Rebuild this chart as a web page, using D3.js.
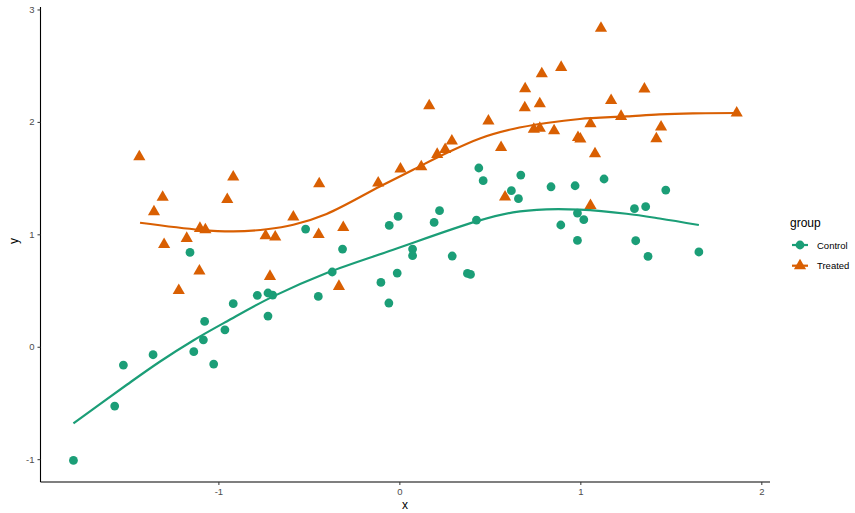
<!DOCTYPE html>
<html>
<head>
<meta charset="utf-8">
<script src="https://cdn.jsdelivr.net/npm/d3@7"></script>
<style>
  body { margin: 0; background: #fff; }
  svg { display: block; font-family: "Liberation Sans", Arial, sans-serif; }
</style>
</head>
<body>
<div id="chart"></div>
<script>
// size of the page
var width = 855, height = 513;

var groups = ["Control", "Treated"];
var colors = ["#1B9E77", "#D95F02"];

// points
var controlX = [-1.801, -1.573, -1.525, -1.361, -1.157, -1.136, -1.083, -1.076, -1.026, -0.964,
    -0.918, -0.785, -0.726, -0.700, -0.726, -0.518, -0.448, -0.371, -0.314, -0.102,
    -0.058, -0.056, -0.012, -0.007, 0.073, 0.073, 0.192, 0.222, 0.292, 0.376,
    0.393, 0.426, 0.439, 0.463, 0.619, 0.658, 0.671, 0.838, 0.892, 0.971,
    0.984, 0.984, 1.019, 1.131, 1.299, 1.306, 1.361, 1.374, 1.472, 1.655];
var controlY = [-1.011, -0.528, -0.163, -0.071, 0.839, -0.044, 0.062, 0.225, -0.154, 0.151,
    0.383, 0.457, 0.478, 0.460, 0.273, 1.047, 0.448, 0.665, 0.869, 0.572,
    0.389, 1.079, 0.655, 1.159, 0.869, 0.810, 1.106, 1.210, 0.807, 0.652,
    0.643, 1.127, 1.590, 1.477, 1.388, 1.317, 1.527, 1.423, 1.083, 1.432,
    1.189, 0.946, 1.130, 1.492, 1.228, 0.943, 1.246, 0.803, 1.394, 0.843];

var treatedX = [-1.437, -1.356, -1.308, -1.300, -1.219, -1.175, -1.105, -1.102, -1.072, -0.951,
    -0.918, -0.739, -0.715, -0.686, -0.586, -0.446, -0.443, -0.334, -0.310, -0.117,
    0.006, 0.121, 0.165, 0.209, 0.253, 0.290, 0.492, 0.562, 0.584, 0.693,
    0.695, 0.743, 0.776, 0.776, 0.787, 0.855, 0.894, 0.987, 1.000, 1.056,
    1.056, 1.081, 1.114, 1.170, 1.225, 1.354, 1.420, 1.446, 1.864];
var treatedY = [1.690, 1.200, 1.330, 0.910, 0.501, 0.964, 0.673, 1.053, 1.041, 1.310,
    1.510, 0.988, 0.626, 0.976, 1.154, 0.999, 1.450, 0.537, 1.061, 1.456,
    1.581, 1.601, 2.144, 1.711, 1.755, 1.830, 2.008, 1.773, 1.332, 2.126,
    2.295, 1.935, 1.944, 2.162, 2.429, 1.922, 2.485, 1.862, 1.848, 1.984,
    1.257, 1.717, 2.832, 2.191, 2.049, 2.293, 1.851, 1.955, 2.079];

// smooth lines
var controlFitX = [-1.801, -1.506, -1.322, -1.139, -0.954, -0.697, -0.402, -0.034, 0.426,
    0.628, 0.813, 0.997, 1.255, 1.438, 1.655];
var controlFitY = [-0.682, -0.338, -0.131, 0.056, 0.225, 0.448, 0.656, 0.863, 1.115,
    1.195, 1.222, 1.219, 1.183, 1.141, 1.083];
var treatedFitX = [-1.433, -1.102, -0.918, -0.733, -0.586, -0.402, -0.108, 0.076, 0.261,
    0.445, 0.628, 0.813, 0.997, 1.255, 1.438, 1.622, 1.864];
var treatedFitY = [1.103, 1.040, 1.026, 1.045, 1.085, 1.181, 1.425, 1.575, 1.723,
    1.853, 1.937, 1.990, 2.026, 2.049, 2.067, 2.076, 2.079];

var xTicks = [-1, 0, 1, 2];
var yTicks = [-1, 0, 1, 2, 3];

var x = d3.scaleLinear().domain([-1.983, 2.048]).range([40.5, 770]);
var y = d3.scaleLinear().domain([-1.203, 3.022]).range([482, 7]);

var svg = d3.select("#chart").append("svg")
    .attr("width", width)
    .attr("height", height);

function zip(a, b) {
    return a.map(function (v, i) { return [v, b[i]]; });
}

var line = d3.line()
    .x(function (d) { return x(d[0]); })
    .y(function (d) { return y(d[1]); })
    .curve(d3.curveCatmullRom.alpha(0.5));

var triangle = d3.symbol().type(d3.symbolTriangle).size(64);

// points
var plot = svg.append("g");

plot.selectAll("circle.ctrl")
    .data(zip(controlX, controlY))
    .enter().append("circle")
    .attr("class", "ctrl")
    .attr("cx", function (d) { return x(d[0]); })
    .attr("cy", function (d) { return y(d[1]); })
    .attr("r", 4.4)
    .style("fill", colors[0]);

plot.selectAll("path.trt")
    .data(zip(treatedX, treatedY))
    .enter().append("path")
    .attr("class", "trt")
    .attr("d", triangle)
    .attr("transform", function (d) { return "translate(" + x(d[0]) + "," + y(d[1]) + ")"; })
    .style("fill", colors[1]);

// smooth lines
plot.append("path")
    .datum(zip(controlFitX, controlFitY))
    .attr("d", line)
    .style("fill", "none")
    .style("stroke", colors[0])
    .style("stroke-width", 2.2);

plot.append("path")
    .datum(zip(treatedFitX, treatedFitY))
    .attr("d", line)
    .style("fill", "none")
    .style("stroke", colors[1])
    .style("stroke-width", 2.2);

// axes, plain hyphen for negatives like R
var fmt = function (d) { return String(d); };
var xAxis = svg.append("g")
    .attr("transform", "translate(0,482)")
    .call(d3.axisBottom(x).tickValues(xTicks).tickFormat(fmt).tickSize(3).tickPadding(3));
var yAxis = svg.append("g")
    .attr("transform", "translate(40.5,0)")
    .call(d3.axisLeft(y).tickValues(yTicks).tickFormat(fmt).tickSize(3).tickPadding(3));

[xAxis, yAxis].forEach(function (a) {
    a.select(".domain").style("stroke", "#000").style("stroke-width", 1.1);
    a.selectAll(".tick line").style("stroke", "#333").style("stroke-width", 1);
    a.selectAll(".tick text")
        .style("fill", "#4d4d4d")
        .style("font-size", "9.5px")
        .style("font-family", "Liberation Sans, Arial, sans-serif");
});
xAxis.select(".domain").attr("d", "M40.5,0H770");
yAxis.select(".domain").attr("d", "M0,482V7");

svg.append("text")
    .attr("x", 405).attr("y", 509)
    .attr("text-anchor", "middle")
    .style("font-size", "12px")
    .text("x");

svg.append("text")
    .attr("transform", "translate(18,241) rotate(-90)")
    .attr("text-anchor", "middle")
    .style("font-size", "12px")
    .text("y");

// legend
var legend = svg.append("g").attr("transform", "translate(790,0)");
legend.append("text")
    .attr("x", 0).attr("y", 227)
    .style("font-size", "12px")
    .text("group");

groups.forEach(function (g, i) {
    var ly = 245 + i * 20.7;
    legend.append("line")
        .attr("x1", 2).attr("x2", 18)
        .attr("y1", ly).attr("y2", ly)
        .style("stroke", colors[i])
        .style("stroke-width", 2.2);
    if (i == 0) {
        legend.append("circle")
            .attr("cx", 10).attr("cy", ly).attr("r", 4.4)
            .style("fill", colors[i]);
    } else {
        legend.append("path")
            .attr("d", triangle)
            .attr("transform", "translate(10," + ly + ")")
            .style("fill", colors[i]);
    }
    legend.append("text")
        .attr("x", 27).attr("y", ly + 3.5)
        .style("font-size", "9.5px")
        .style("fill", "#000")
        .text(g);
});
</script>
</body>
</html>
